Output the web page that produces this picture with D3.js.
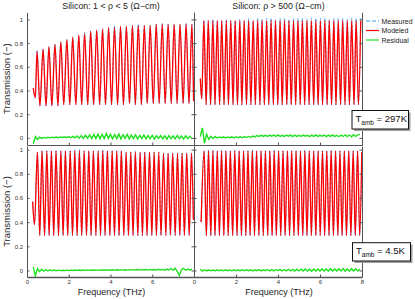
<!DOCTYPE html>
<html>
<head>
<meta charset="utf-8">
<script src="https://cdn.jsdelivr.net/npm/d3@7"></script>
<style>
  body { margin: 0; background: #fff; }
  svg { display: block; font-family: "Liberation Sans", Arial, sans-serif; }
  .axis path, .axis line { stroke: #555; }
  .axis text { fill: #333; font-size: 6px; font-family: "Liberation Sans", Arial, sans-serif; }
</style>
</head>
<body>
<div class="plot"></div>
<script>
// ---- data ----
var xTicks = [0, 2, 4, 6, 8];
var yTicks = [0, 0.2, 0.4, 0.6, 0.8, 1];
var titles = ["Silicon: 1 < \u03C1 < 5 (\u03A9\u2212cm)", "Silicon: \u03C1 > 500 (\u03A9\u2212cm)"];
var tempLabels = ["297K", "4.5K"];
var legendNames = ["Measured", "Modeled", "Residual"];

// top left: 1 < rho < 5, 297 K
var tlPeakF = [0.48,0.77,1.05,1.34,1.62,1.91,2.19,2.48,2.76,3.05,3.34,3.62,3.91,4.19,4.48,4.76,5.05,5.33,5.62,5.90,6.19,6.48,6.76,7.05,7.33,7.62,7.90];
var tlPeakT = [0.73,0.75,0.77,0.79,0.81,0.83,0.85,0.87,0.88,0.90,0.91,0.92,0.93,0.93,0.94,0.94,0.95,0.95,0.95,0.95,0.96,0.96,0.96,0.96,0.96,0.96,0.96];
var tlPeakMeas = [0.74,0.75,0.77,0.79,0.81,0.83,0.85,0.86,0.89,0.90,0.91,0.92,0.93,0.95,0.94,0.94,0.95,0.96,0.95,0.95,0.96,0.97,0.96,0.96,0.96,0.97,0.96];
var tlValleyF = [0.30,0.40,0.62,0.91,1.19,1.48,1.76,2.05,2.34,2.62,2.91,3.19,3.48,3.76,4.05,4.34,4.62,4.91,5.19,5.48,5.76,6.05,6.33,6.62,6.91,7.19,7.48,7.76,7.98];
var tlValleyT = [0.42,0.34,0.27,0.27,0.27,0.27,0.28,0.28,0.28,0.28,0.28,0.28,0.28,0.28,0.28,0.28,0.28,0.29,0.28,0.28,0.29,0.29,0.29,0.29,0.29,0.29,0.29,0.29,0.31];

// top right: rho > 500, 297 K
var trPeakF = [0.47,0.68,0.90,1.11,1.32,1.54,1.75,1.96,2.18,2.39,2.60,2.82,3.03,3.24,3.46,3.67,3.88,4.10,4.31,4.52,4.74,4.95,5.16,5.38,5.59,5.80,6.02,6.23,6.44,6.66,6.87,7.08,7.30,7.51,7.72,7.94];
var trPeakT = [0.99,0.99,0.99,0.99,0.99,0.99,0.99,0.99,0.99,0.99,0.99,0.99,0.99,0.99,0.99,0.99,0.99,0.99,0.99,0.99,0.99,0.99,0.99,0.99,0.99,0.99,0.99,0.99,0.99,0.99,0.99,0.99,0.99,0.99,0.99,0.99];
var trPeakMeas = [0.99,0.99,1.0,0.99,0.99,1.0,0.99,0.99,1.0,0.99,1.01,0.99,1.01,1.0,1.01,1.01,1.0,1.01,1.01,1.0,1.01,1.01,1.01,1.0,1.01,1.01,1.01,1.01,1.0,1.01,1.01,1.01,1.0,1.01,1.01,1.01];
var trValleyF = [0.30,0.37,0.58,0.79,1.00,1.22,1.43,1.64,1.86,2.07,2.28,2.50,2.71,2.92,3.14,3.35,3.56,3.78,3.99,4.20,4.42,4.63,4.84,5.06,5.27,5.48,5.70,5.91,6.12,6.34,6.55,6.76,6.98,7.19,7.40,7.62,7.83];
var trValleyT = [0.50,0.33,0.28,0.28,0.28,0.28,0.28,0.28,0.28,0.28,0.28,0.28,0.28,0.28,0.28,0.28,0.28,0.28,0.28,0.28,0.28,0.28,0.28,0.28,0.28,0.28,0.28,0.28,0.28,0.28,0.28,0.28,0.28,0.28,0.28,0.28,0.28];

// bottom left: 1 < rho < 5, 4.5 K
var blPeakF = [0.50,0.72,0.95,1.17,1.39,1.62,1.84,2.07,2.29,2.51,2.74,2.96,3.18,3.41,3.63,3.85,4.08,4.30,4.52,4.75,4.97,5.19,5.42,5.64,5.87,6.09,6.31,6.54,6.76,6.98,7.21,7.43,7.65,7.88];
var blPeakT = [0.98,0.99,0.99,0.99,0.99,0.99,0.99,0.99,0.99,0.99,0.99,0.99,0.99,0.99,0.99,0.99,0.99,0.99,0.99,0.98,0.98,0.98,0.98,0.98,0.98,0.98,0.98,0.97,0.97,0.97,0.97,0.97,0.97,0.97];
var blPeakMeas = [0.98,0.99,0.99,0.99,0.99,0.99,0.99,0.99,1.0,1.0,0.99,0.99,0.99,0.99,1.0,0.99,0.99,0.99,0.99,0.98,0.98,0.99,0.98,0.98,0.98,0.98,0.98,0.97,0.97,0.97,0.97,0.97,0.97,0.97];
var blValleyF = [0.27,0.36,0.61,0.84,1.06,1.28,1.51,1.73,1.95,2.18,2.40,2.62,2.85,3.07,3.30,3.52,3.74,3.97,4.19,4.41,4.64,4.86,5.08,5.31,5.53,5.75,5.98,6.20,6.42,6.65,6.87,7.10,7.32,7.54,7.77,7.97];
var blValleyT = [0.57,0.38,0.29,0.29,0.29,0.29,0.29,0.29,0.29,0.29,0.29,0.29,0.29,0.29,0.29,0.29,0.29,0.29,0.29,0.29,0.29,0.29,0.29,0.29,0.29,0.29,0.29,0.29,0.29,0.29,0.29,0.29,0.29,0.29,0.29,0.42];

// bottom right: rho > 500, 4.5 K
var brPeakF = [0.48,0.69,0.90,1.11,1.31,1.52,1.73,1.94,2.15,2.36,2.57,2.78,2.98,3.19,3.40,3.61,3.82,4.03,4.24,4.45,4.65,4.86,5.07,5.28,5.49,5.70,5.91,6.12,6.32,6.53,6.74,6.95,7.16,7.37,7.58,7.79,7.99];
var brPeakT = [0.99,0.99,0.99,0.99,0.99,0.99,0.99,0.99,0.99,0.99,0.99,0.99,0.99,0.99,0.99,0.99,0.99,0.99,0.99,0.99,0.99,0.99,0.99,0.99,0.99,0.99,0.99,0.99,0.99,0.99,0.99,0.99,0.99,0.99,0.99,0.99,0.98];
var brPeakMeas = [0.99,1.0,1.0,0.99,1.0,0.99,0.99,1.0,0.99,0.99,0.99,1.0,0.99,0.99,0.99,0.99,1.0,0.99,0.99,0.99,0.99,0.99,0.99,1.0,0.99,0.99,0.99,0.99,0.99,1.0,0.99,0.99,0.99,0.99,0.99,0.99,0.98];
var brValleyF = [0.34,0.59,0.80,1.00,1.21,1.42,1.63,1.84,2.05,2.26,2.47,2.67,2.88,3.09,3.30,3.51,3.72,3.92,4.13,4.34,4.55,4.76,4.97,5.18,5.38,5.59,5.80,6.01,6.22,6.43,6.64,6.85,7.05,7.26,7.47,7.68,7.89];
var brValleyT = [0.40,0.29,0.29,0.29,0.29,0.29,0.29,0.29,0.29,0.29,0.29,0.29,0.29,0.29,0.29,0.29,0.29,0.29,0.29,0.29,0.29,0.29,0.29,0.29,0.29,0.29,0.29,0.29,0.29,0.29,0.29,0.29,0.29,0.29,0.29,0.29,0.29];

// residual (measured - modeled), sampled every 0.1 THz
var resFreq = [0.3,0.4,0.5,0.6,0.7,0.8,0.9,1.0,1.1,1.2,1.3,1.4,1.5,1.6,1.7,1.8,1.9,2.0,2.1,2.2,2.3,2.4,2.5,2.6,2.7,2.8,2.9,3.0,3.1,3.2,3.3,3.4,3.5,3.6,3.7,3.8,3.9,4.0,4.1,4.2,4.3,4.4,4.5,4.6,4.7,4.8,4.9,5.0,5.1,5.2,5.3,5.4,5.5,5.6,5.7,5.8,5.9,6.0,6.1,6.2,6.3,6.4,6.5,6.6,6.7,6.8,6.9,7.0,7.1,7.2,7.3,7.4,7.5,7.6,7.7,7.8,7.9];
var tlRes = [-0.05,0.012,-0.012,0.006,-0.004,0.004,-0.002,0.005,0.0,0.006,0.001,0.007,0.002,0.008,0.003,0.009,0.002,0.011,0.001,0.013,0.0,0.016,-0.002,0.019,-0.004,0.022,-0.003,0.026,-0.006,0.028,-0.004,0.032,-0.008,0.03,-0.006,0.036,-0.004,0.03,-0.008,0.028,-0.006,0.032,-0.01,0.026,-0.004,0.03,-0.008,0.024,-0.006,0.026,-0.01,0.022,-0.004,0.025,-0.008,0.02,-0.006,0.022,-0.01,0.018,-0.004,0.02,-0.008,0.018,-0.01,0.02,-0.006,0.016,-0.008,0.02,-0.006,0.016,-0.01,0.018,-0.006,0.014,-0.004];
var trRes = [0.01,0.085,-0.045,0.03,-0.012,0.014,-0.004,0.01,0.0,0.008,0.001,0.009,0.0,0.008,0.002,0.009,0.0,0.01,0.002,0.009,0.001,0.011,0.003,0.012,0.005,0.015,0.008,0.02,0.012,0.024,0.013,0.022,0.012,0.024,0.014,0.023,0.012,0.025,0.013,0.022,0.012,0.024,0.014,0.023,0.011,0.024,0.013,0.022,0.012,0.024,0.014,0.022,0.011,0.023,0.013,0.025,0.012,0.022,0.014,0.024,0.011,0.023,0.013,0.025,0.012,0.022,0.01,0.024,0.012,0.026,0.011,0.024,0.01,0.027,0.012,0.026,0.03];
var blRes = [0.03,-0.045,0.015,-0.01,0.01,-0.006,0.008,-0.004,0.006,-0.003,0.004,-0.002,0.003,-0.001,0.002,-0.001,0.003,0.0,0.003,0.0,0.004,0.001,0.004,0.0,0.004,0.001,0.005,0.001,0.004,0.002,0.005,0.001,0.005,0.002,0.006,0.002,0.005,0.002,0.006,0.003,0.006,0.002,0.007,0.003,0.006,0.003,0.007,0.003,0.007,0.004,0.008,0.003,0.007,0.004,0.008,0.003,0.009,0.004,0.008,0.003,0.01,0.004,0.009,0.002,0.012,0.004,0.016,0.002,0.02,-0.01,-0.042,0.005,0.018,0.002,0.012,0.004,0.01];
var brRes = [0.012,-0.006,0.006,-0.004,0.005,-0.003,0.004,-0.003,0.005,-0.002,0.004,-0.003,0.005,-0.002,0.004,-0.003,0.005,-0.002,0.004,-0.002,0.006,-0.003,0.005,-0.002,0.006,-0.003,0.006,-0.002,0.007,-0.003,0.006,-0.002,0.008,-0.003,0.007,-0.004,0.008,-0.002,0.009,-0.004,0.008,-0.003,0.01,-0.004,0.009,-0.005,0.011,-0.004,0.01,-0.005,0.012,-0.004,0.011,-0.006,0.013,-0.004,0.012,-0.005,0.014,-0.004,0.012,-0.006,0.015,-0.004,0.013,-0.005,0.014,-0.004,0.016,-0.005,0.013,-0.006,0.015,-0.004,0.014,-0.005,0.012];

// ---- layout ----
var W = 415, H = 299;
var colLeft = [27, 194], colRight = [194, 362];
var rowTop = {range: [145, 12.3], domain: [-0.06, 1.06]},
    rowBot = {range: [277, 146], domain: [-0.054, 1.03]};

var svg = d3.select(".plot")
  .append("svg")
  .attr("width", W)
  .attr("height", H)
  .attr("viewBox", "0 0 " + W + " " + H);

svg.append("rect").attr("width", W).attr("height", H).attr("fill", "#fff");

var defs = svg.append("defs");

// merge peaks and valleys into one sorted curve
function fringe(peakF, peakT, valF, valT) {
  var pts = peakF.map(function(f, i) { return {f: f, t: peakT[i]}; })
    .concat(valF.map(function(f, i) { return {f: f, t: valT[i]}; }));
  pts.sort(function(a, b) { return a.f - b.f; });
  return pts;
}

var panels = [
  {id: "tl", col: colLeft, row: rowTop, peakF: tlPeakF, peakT: tlPeakT, meas: tlPeakMeas, valF: tlValleyF, valT: tlValleyT, res: tlRes, yLabels: true, xLabels: false},
  {id: "tr", col: colRight, row: rowTop, peakF: trPeakF, peakT: trPeakT, meas: trPeakMeas, valF: trValleyF, valT: trValleyT, res: trRes, yLabels: false, xLabels: false},
  {id: "bl", col: colLeft, row: rowBot, peakF: blPeakF, peakT: blPeakT, meas: blPeakMeas, valF: blValleyF, valT: blValleyT, res: blRes, yLabels: true, xLabels: true, xShown: [0, 2, 4, 6]},
  {id: "br", col: colRight, row: rowBot, peakF: brPeakF, peakT: brPeakT, meas: brPeakMeas, valF: brValleyF, valT: brValleyT, res: brRes, yLabels: false, xLabels: true, xShown: xTicks}
];

var fmt = function(d) { return String(d); };

panels.forEach(function(p) {
  var x = d3.scaleLinear().domain([0, 8]).range(p.col);
  var y = d3.scaleLinear().domain(p.row.domain).range(p.row.range);

  defs.append("clipPath").attr("id", "clip-" + p.id)
    .append("rect")
    .attr("x", p.col[0]).attr("y", p.row.range[1])
    .attr("width", p.col[1] - p.col[0]).attr("height", p.row.range[0] - p.row.range[1]);

  var line = d3.line()
    .x(function(d) { return x(d.f); })
    .y(function(d) { return y(d.t); })
    .curve(d3.curveMonotoneX);

  var g = svg.append("g").attr("clip-path", "url(#clip-" + p.id + ")");

  // measured (dashed blue) sits under the model
  g.append("path")
    .attr("d", line(fringe(p.peakF, p.meas, p.valF, p.valT)))
    .attr("fill", "none")
    .attr("stroke", "#3d9bf0")
    .attr("stroke-width", 0.8)
    .attr("stroke-dasharray", "3,1.5");

  g.append("path")
    .attr("d", line(fringe(p.peakF, p.peakT, p.valF, p.valT)))
    .attr("fill", "none")
    .attr("stroke", "#ff0000")
    .attr("stroke-width", 1.3);

  g.append("path")
    .attr("d", line.curve(d3.curveLinear)(resFreq.map(function(f, i) { return {f: f, t: p.res[i]}; })))
    .attr("fill", "none")
    .attr("stroke", "#1fe01f")
    .attr("stroke-width", 1.4);

  // axes, ticks pointing inward on every side
  svg.append("g").attr("class", "axis")
    .attr("transform", "translate(" + p.col[0] + ",0)")
    .call(d3.axisLeft(y).tickValues(yTicks).tickSizeInner(-2.5).tickSizeOuter(0).tickPadding(4)
      .tickFormat(p.yLabels ? fmt : ""));
  svg.append("g").attr("class", "axis")
    .attr("transform", "translate(" + p.col[1] + ",0)")
    .call(d3.axisRight(y).tickValues(yTicks).tickSizeInner(-2.5).tickSizeOuter(0).tickFormat(""));
  var bottom = svg.append("g").attr("class", "axis")
    .attr("transform", "translate(0," + p.row.range[0] + ")")
    .call(d3.axisBottom(x).tickValues(xTicks).tickSizeInner(-2.5).tickSizeOuter(0).tickPadding(3)
      .tickFormat(function(d) { return p.xLabels && p.xShown.indexOf(d) >= 0 ? fmt(d) : ""; }));

  svg.selectAll(".axis text").attr("font-size", 6).attr("font-family", "Liberation Sans, Arial, sans-serif");
  if (p.row === rowBot) bottom.select(".domain").attr("stroke", "#8a8a8a").attr("stroke-width", 1.6);

  // y label
  svg.append("text")
    .attr("transform", "translate(10," + ((p.row.range[0] + p.row.range[1]) / 2) + ") rotate(-90)")
    .attr("text-anchor", "middle")
    .attr("font-size", 9.5)
    .attr("fill", "#222")
    .text(p.yLabels ? "Transmission (\u2212)" : "");

  if (p.xLabels) {
    svg.append("text")
      .attr("x", (p.col[0] + p.col[1]) / 2 + 1)
      .attr("y", 294.5)
      .attr("text-anchor", "middle")
      .attr("font-size", 9)
      .attr("fill", "#222")
      .text("Frequency (THz)");
  }
});

// titles
[colLeft, colRight].forEach(function(c, i) {
  svg.append("text")
    .attr("x", (c[0] + c[1]) / 2 + 0.5)
    .attr("y", 9.3)
    .attr("text-anchor", "middle")
    .attr("font-size", 8.8)
    .attr("fill", "#222")
    .text(titles[i]);
});

// legend
var legendColors = ["#3d9bf0", "#ff0000", "#1fe01f"];
var legend = svg.append("g").attr("transform", "translate(366,21)");
legendNames.forEach(function(name, i) {
  legend.append("line")
    .attr("x1", 0).attr("x2", 13)
    .attr("y1", i * 9.5).attr("y2", i * 9.5)
    .attr("stroke", legendColors[i])
    .attr("stroke-width", 1.2)
    .attr("stroke-dasharray", i === 0 ? "4,2" : null);
  legend.append("text")
    .attr("x", 15.5).attr("y", i * 9.5 + 2.5)
    .attr("font-size", 7)
    .attr("fill", "#222")
    .text(name);
});

// temperature boxes
var boxes = [{x: 352, y: 110.5, w: 56.5, h: 18.5}, {x: 352.5, y: 242.7, w: 58, h: 18.3}];
boxes.forEach(function(b, i) {
  svg.append("rect")
    .attr("x", b.x + 2).attr("y", b.y + 2).attr("width", b.w).attr("height", b.h)
    .attr("fill", "#a0a0a0");
  svg.append("rect")
    .attr("x", b.x).attr("y", b.y).attr("width", b.w).attr("height", b.h)
    .attr("fill", "#fff").attr("stroke", "#111").attr("stroke-width", 1);
  var t = svg.append("text")
    .attr("x", b.x + 3.5).attr("y", b.y + 11)
    .attr("font-size", 9.5)
    .attr("fill", "#111");
  t.append("tspan").text("T");
  t.append("tspan").attr("font-size", 6.5).attr("dy", 3).text("amb");
  t.append("tspan").attr("dy", -3).text(" = " + tempLabels[i]);
});
</script>
</body>
</html>
